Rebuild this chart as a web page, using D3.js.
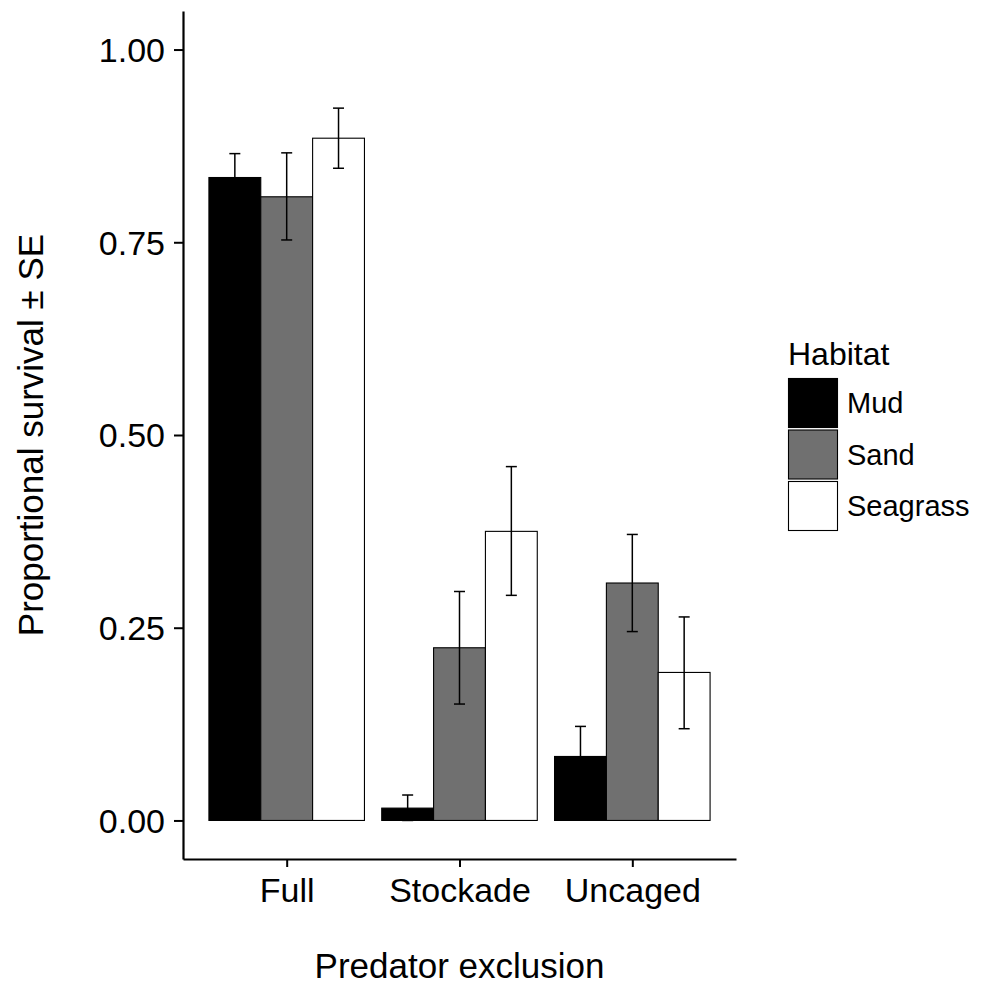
<!DOCTYPE html>
<meta charset="utf-8">
<style>
  body { margin: 0; background: #fff; }
  text { font-family: Arial, "Liberation Sans", sans-serif; fill: #000; }
  .tick text { font-size: 34px; }
  .axisTitle { font-size: 35px; }
  .legTitle { font-size: 32px; }
  .legText { font-size: 29px; }
</style>
<body>
<script src="https://d3js.org/d3.v7.min.js"></script>
<script>
  // data
  var exclusion = ["Full", "Stockade", "Uncaged"];
  var habitats = ["Mud", "Sand", "Seagrass"];
  var fills = ["#000000", "#707070", "#ffffff"];
  var yTicks = [0, 0.25, 0.5, 0.75, 1];

  // mean survival, per habitat, in exclusion order
  var mud = [0.834, 0.016, 0.083];
  var sand = [0.809, 0.224, 0.308];
  var seagrass = [0.885, 0.375, 0.192];
  // error bar limits (mean - SE, mean + SE)
  var mudLo = [0.803, 0.000, 0.044], mudHi = [0.865, 0.033, 0.122];
  var sandLo = [0.753, 0.151, 0.245], sandHi = [0.866, 0.297, 0.371];
  var seagrassLo = [0.846, 0.292, 0.119], seagrassHi = [0.924, 0.459, 0.264];

  var means = [mud, sand, seagrass];
  var los = [mudLo, sandLo, seagrassLo];
  var his = [mudHi, sandHi, seagrassHi];

  var rows = [];
  exclusion.forEach(function (e, i) {
    habitats.forEach(function (h, j) {
      rows.push({ exclusion: e, habitat: h, k: j, mean: means[j][i], lo: los[j][i], hi: his[j][i] });
    });
  });

  var margin = { left: 183, right: 248, top: 11, bottom: 126 };
  var W = 984, H = 985;
  var width = W - margin.left - margin.right,
      height = H - margin.top - margin.bottom;

  var svg = d3.select("body").append("svg")
    .attr("width", W).attr("height", H);
  var g = svg.append("g")
    .attr("transform", "translate(" + margin.left + "," + margin.top + ")");

  // ggplot-like discrete expansion: 0.6 units each side
  var x = d3.scalePoint().domain(exclusion).range([0, width]).padding(0.6);
  var step = x.step();
  var dodge = 0.9 * step, bw = dodge / 3;

  var y = d3.scaleLinear().domain([-0.05, 1.05]).range([height, 0]);

  // bars
  g.selectAll("rect.bar")
    .data(rows)
    .enter().append("rect")
    .attr("class", "bar")
    .attr("x", function (d) { return x(d.exclusion) - dodge / 2 + d.k * bw; })
    .attr("width", bw)
    .attr("y", function (d) { return y(d.mean); })
    .attr("height", function (d) { return y(0) - y(d.mean); })
    .attr("fill", function (d) { return fills[d.k]; })
    .attr("stroke", "#000")
    .attr("stroke-width", 1.1);

  // error bars
  var cap = 5.5;
  var eb = g.selectAll("g.err")
    .data(rows)
    .enter().append("g")
    .attr("class", "err")
    .attr("stroke", "#000")
    .attr("stroke-width", 1.5);
  function cx(d) { return x(d.exclusion) - dodge / 2 + d.k * bw + bw / 2; }
  eb.append("line")
    .attr("x1", cx).attr("x2", cx)
    .attr("y1", function (d) { return y(d.lo); })
    .attr("y2", function (d) { return y(d.hi); });
  eb.append("line")
    .attr("x1", function (d) { return cx(d) - cap; })
    .attr("x2", function (d) { return cx(d) + cap; })
    .attr("y1", function (d) { return y(d.hi); })
    .attr("y2", function (d) { return y(d.hi); });
  eb.append("line")
    .attr("x1", function (d) { return cx(d) - cap; })
    .attr("x2", function (d) { return cx(d) + cap; })
    .attr("y1", function (d) { return y(d.lo); })
    .attr("y2", function (d) { return y(d.lo); });

  // axes
  var xAxis = g.append("g")
    .attr("transform", "translate(0," + height + ")")
    .call(d3.axisBottom(x).tickSize(8).tickSizeOuter(0));
  var yAxis = g.append("g")
    .call(d3.axisLeft(y).tickValues(yTicks).tickFormat(d3.format(".2f")).tickSize(9).tickPadding(9).tickSizeOuter(0));
  [xAxis, yAxis].forEach(function (a) {
    a.select(".domain").attr("stroke", "#000").attr("stroke-width", 2.2);
    a.selectAll(".tick line").attr("stroke", "#000").attr("stroke-width", 2);
    a.selectAll(".tick text").attr("fill", "#000").attr("font-family", null).attr("font-size", null);
  });
  xAxis.selectAll(".tick text").attr("dy", null).attr("y", 43);
  yAxis.selectAll(".tick text").attr("dy", "0.35em");

  // axis titles
  svg.append("text")
    .attr("class", "axisTitle")
    .attr("x", margin.left + width / 2)
    .attr("y", 978)
    .attr("text-anchor", "middle")
    .text("Predator exclusion");
  svg.append("text")
    .attr("class", "axisTitle")
    .attr("transform", "translate(43," + (margin.top + height / 2) + ") rotate(-90)")
    .attr("text-anchor", "middle")
    .text("Proportional survival \u00b1 SE");

  // legend
  var leg = svg.append("g").attr("transform", "translate(788,378)");
  leg.append("text").attr("class", "legTitle").attr("x", 0).attr("y", -13).text("Habitat");
  habitats.forEach(function (h, j) {
    leg.append("rect")
      .attr("x", 0.5).attr("y", j * 51.5 + 0.5)
      .attr("width", 49).attr("height", 49)
      .attr("fill", fills[j])
      .attr("stroke", "#000").attr("stroke-width", 1.1);
    leg.append("text").attr("class", "legText")
      .attr("x", 59).attr("y", j * 51.5 + 25).attr("dy", "0.35em")
      .text(h);
  });
</script>
</body>
